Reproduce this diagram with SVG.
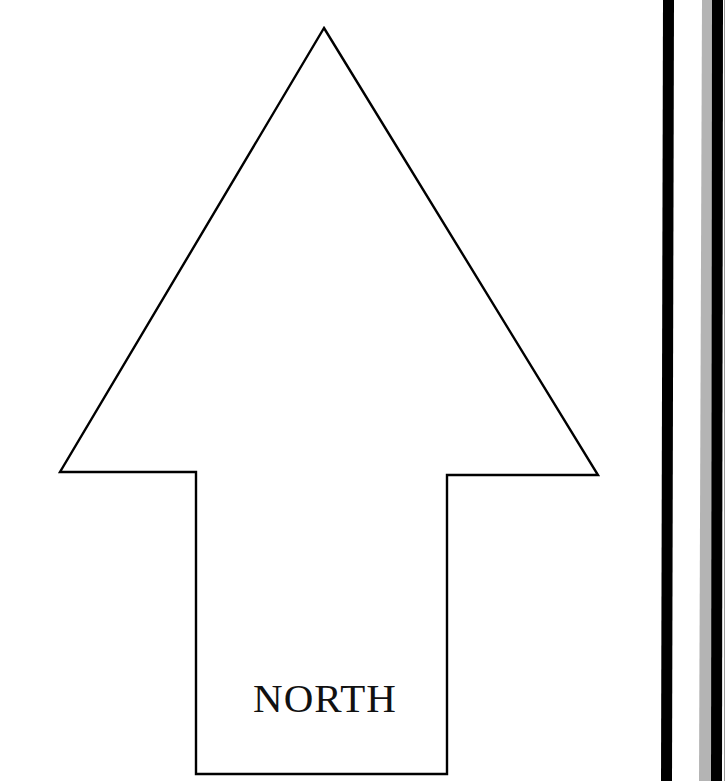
<svg xmlns="http://www.w3.org/2000/svg" width="726" height="781" viewBox="0 0 726 781">
<style>
.outline{fill:none;stroke:#000;stroke-width:2.4;stroke-linejoin:miter}
.label{font-family:"Liberation Serif","Times New Roman",serif;font-size:41px;letter-spacing:1px;fill:#111}
.bar{fill:#000}
</style>
<rect width="726" height="781" fill="#fff"/>
<g id="north-arrow">
<polygon class="outline" points="324,28 598,475 447,475 447,774 196,774 196,472 60,472"/>
<text class="label" x="325" y="712" text-anchor="middle">NORTH</text>
</g>
<g id="border">
<polygon class="bar" points="663,0 674,0 672,781 661,781"/>
<polygon fill="#b4b4b4" points="702,0 712,0 711,781 699,781"/>
<polygon class="bar" points="712,0 723,0 722,781 711,781"/>
<line x1="724.5" y1="0" x2="724.5" y2="781" stroke="#999" stroke-width="1"/>
</g>
</svg>
